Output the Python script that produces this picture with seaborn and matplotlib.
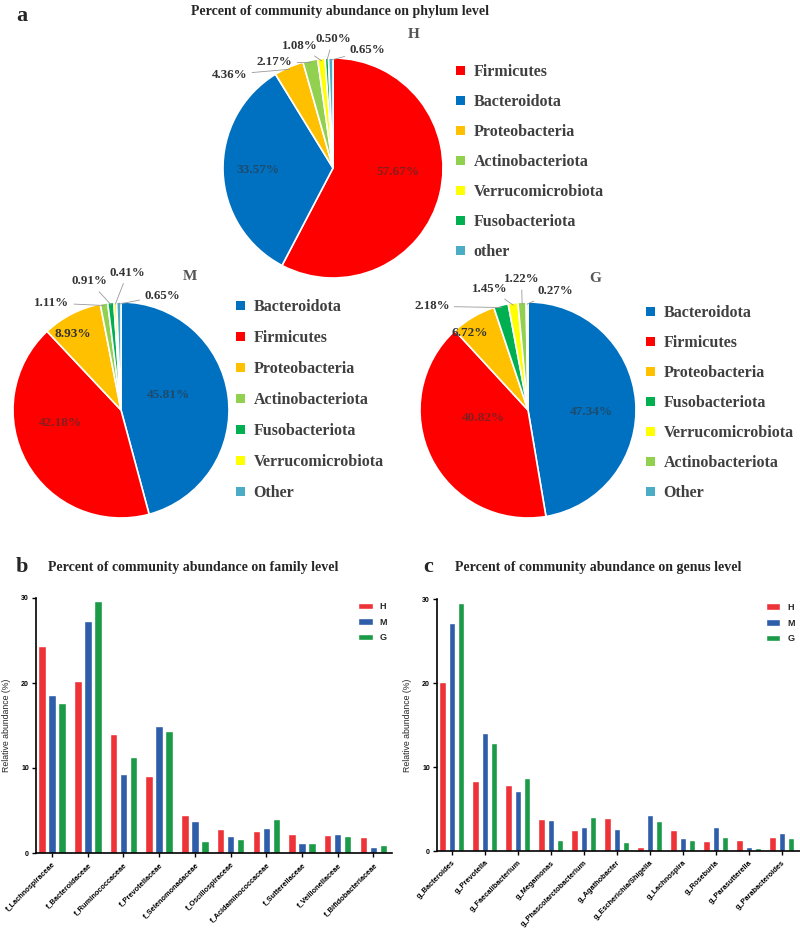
import numpy as np
import pandas as pd
import matplotlib
matplotlib.use('Agg')
import matplotlib.pyplot as plt
from matplotlib.patches import Patch
import seaborn as sns

## ============================================================= ##
## data

h_phyla = ['Firmicutes', 'Bacteroidota', 'Proteobacteria', 'Actinobacteriota',
           'Verrucomicrobiota', 'Fusobacteriota', 'other']
h_pct = [57.67, 33.57, 4.36, 2.17, 1.08, 0.50, 0.65]

m_phyla = ['Bacteroidota', 'Firmicutes', 'Proteobacteria', 'Actinobacteriota',
           'Fusobacteriota', 'Verrucomicrobiota', 'Other']
m_pct = [45.81, 42.18, 8.93, 1.11, 0.91, 0.41, 0.65]

g_phyla = ['Bacteroidota', 'Firmicutes', 'Proteobacteria', 'Fusobacteriota',
           'Verrucomicrobiota', 'Actinobacteriota', 'Other']
g_pct = [47.34, 40.82, 6.72, 2.18, 1.45, 1.22, 0.27]

groups = ['H', 'M', 'G']

family = ['f_Lachnospiraceae', 'f_Bacteroidaceae', 'f_Ruminococcaceae', 'f_Prevotellaceae',
          'f_Selenomonadaceae', 'f_Oscillospiraceae', 'f_Acidaminococcaceae',
          'f_Sutterellaceae', 'f_Veillonellaceae', 'f_Bifidobacteriaceae']
family_h = [24.3, 20.2, 14.0, 9.1, 4.47, 2.86, 2.55, 2.27, 2.08, 1.88]
family_m = [18.6, 27.25, 9.3, 15.0, 3.8, 2.04, 2.94, 1.2, 2.27, 0.7]
family_g = [17.6, 29.7, 11.25, 14.3, 1.45, 1.65, 4.04, 1.14, 2.0, 0.98]

genus = ['g_Bacteroides', 'g_Prevotella', 'g_Faecalibacterium', 'g_Megamonas',
         'g_Phascolarctobacterium', 'g_Agathobacter', 'g_Escherichia/Shigella',
         'g_Lachnospira', 'g_Roseburia', 'g_Parasutterella', 'g_Parabacteroides']
genus_h = [20.1, 8.3, 7.9, 3.8, 2.5, 3.9, 0.44, 2.5, 1.2, 1.3, 1.67]
genus_m = [27.1, 14.0, 7.2, 3.66, 2.83, 2.67, 4.26, 1.6, 2.9, 0.44, 2.2]
genus_g = [29.5, 12.9, 8.75, 1.35, 4.0, 1.1, 3.6, 1.35, 1.67, 0.4, 1.55]

## ============================================================= ##
## styles

phylum_colors = {'firmicutes': '#FF0000', 'bacteroidota': '#0070C0',
                 'proteobacteria': '#FFC000', 'actinobacteriota': '#92D050',
                 'verrucomicrobiota': '#FFFF00', 'fusobacteriota': '#00B050',
                 'other': '#4BACC6'}
bar_colors = {'H': '#EE3338', 'M': '#2E5EAA', 'G': '#1B9A47'}

SERIF = ['Liberation Serif', 'DejaVu Serif']
SANS = ['Liberation Sans', 'DejaVu Sans']

sns.set_theme(style='ticks')
plt.rcParams['font.family'] = SANS

W, H = 800, 931


def box(x0, y0, w, h):
    # pixel box (top-left origin) -> figure fraction
    return [x0 / W, 1 - (y0 + h) / H, w / W, h / H]


fig = plt.figure(figsize=(W / 100, H / 100), dpi=100)

## ============================================================= ##
## pies


def draw_pie(cx, cy, r, phyla, pct, label_pos, inner, name, name_xy, leg_xy, leg_gap):
    ax = fig.add_axes(box(cx - r, cy - r, 2 * r, 2 * r))
    cols = [phylum_colors[p.lower()] for p in phyla]
    ax.pie(pct, colors=cols, startangle=90, counterclock=False, radius=1,
           wedgeprops=dict(edgecolor='white', linewidth=1.2))
    ax.set_xlim(-1, 1)
    ax.set_ylim(-1, 1)
    ax.set_aspect('equal')
    ax.axis('off')
    cum = 0.
    for v, pos, ins in zip(pct, label_pos, inner):
        ang = np.deg2rad(360. * (cum + v / 2.) / 100.)
        cum += v
        txt = '%.2f%%' % v
        if ins == 1:
            ax.text(pos[0], pos[1], txt, ha='center', va='center', fontsize=9.5,
                    fontweight='bold', family=SERIF, color='#333333', alpha=0.6)
        elif ins == 2:
            ax.text(pos[0], pos[1], txt, ha='center', va='center', fontsize=9.5,
                    fontweight='bold', family=SERIF, color='#333333')
        else:
            ax.annotate(txt, xy=(np.sin(ang) * 0.98, np.cos(ang) * 0.98), xytext=pos,
                        ha='center', va='center', fontsize=9.3, fontweight='bold',
                        family=SERIF, color='#333333', annotation_clip=False,
                        arrowprops=dict(arrowstyle='-', color='#999999', lw=0.6,
                                        shrinkA=1, shrinkB=0))
    fig.text(name_xy[0] / W, 1 - name_xy[1] / H, name, ha='center', va='center',
             fontsize=11, fontweight='bold', family=SERIF, color='#555555')
    handles = [Patch(facecolor=c, edgecolor='none', label=p) for c, p in zip(cols, phyla)]
    fig.legend(handles=handles, loc='upper left',
               bbox_to_anchor=(leg_xy[0] / W, 1 - leg_xy[1] / H), frameon=False,
               handlelength=0.55, handleheight=0.55, handletextpad=0.55,
               labelspacing=leg_gap, borderaxespad=0, borderpad=0,
               prop=dict(family=SERIF, weight='bold', size=11.5), labelcolor='#404040')


draw_pie(333, 168, 110, h_phyla, h_pct,
         [(0.59, -0.04), (-0.68, -0.02), (-0.94, 0.85), (-0.53, 0.96),
          (-0.30, 1.11), (0.00, 1.17), (0.31, 1.07)],
         [1, 1, 0, 0, 0, 0, 0], 'H', (414, 34), (456, 64), 0.88)

draw_pie(121, 410, 108, m_phyla, m_pct,
         [(0.44, 0.14), (-0.56, -0.12), (-0.45, 0.70), (-0.64, 0.99),
          (-0.29, 1.19), (0.06, 1.27), (0.38, 1.06)],
         [1, 1, 2, 0, 0, 0, 0], 'M', (190, 277), (236, 299), 0.94)

draw_pie(528, 410, 108, g_phyla, g_pct,
         [(0.59, -0.02), (-0.41, -0.07), (-0.54, 0.71), (-0.89, 0.96),
          (-0.35, 1.12), (-0.06, 1.21), (0.25, 1.10)],
         [1, 1, 2, 0, 0, 0, 0], 'G', (595, 278), (646, 305), 0.88)

fig.text(22 / W, 1 - 16 / H, 'a', ha='center', va='center', fontsize=16,
         fontweight='bold', family=SERIF)
fig.text(340 / W, 1 - 12 / H, 'Percent of community abundance on phylum level',
         ha='center', va='center', fontsize=10, fontweight='bold', family=SERIF)

## ============================================================= ##
## bars


def draw_bars(rect, taxa, vh, vm, vg, xlim, width, gap, leg_xy):
    ax = fig.add_axes(box(*rect))
    n = len(taxa)
    df = pd.DataFrame({'taxon': taxa * 3,
                       'group': ['H'] * n + ['M'] * n + ['G'] * n,
                       'value': vh + vm + vg})
    sns.barplot(data=df, x='taxon', y='value', hue='group', hue_order=groups,
                palette=bar_colors, saturation=1, width=width, gap=gap, ax=ax,
                errorbar=None)
    ax.set_xlim(*xlim)
    ax.set_ylim(0, 30)
    ax.set_yticks([0, 10, 20, 30])
    ax.set_xlabel('')
    ax.set_ylabel('Relative abundance (%)', fontsize=6.3, labelpad=7)
    sns.despine(ax=ax)
    for s in ['left', 'bottom']:
        ax.spines[s].set_linewidth(1.2)
        ax.spines[s].set_color('black')
    ax.tick_params(axis='both', length=3, width=1.0, labelsize=5, pad=2, colors='black')
    ax.tick_params(axis='x', labelsize=5.3, pad=3)
    for lab in ax.get_yticklabels():
        lab.set_fontweight('bold')
    plt.setp(ax.get_xticklabels(), rotation=45, ha='right', rotation_mode='anchor',
             fontweight='bold')
    ax.legend(loc='upper left', bbox_to_anchor=leg_xy, frameon=False,
              handlelength=1.6, handleheight=0.7, handletextpad=0.8,
              labelspacing=0.75, borderaxespad=0, borderpad=0,
              prop=dict(family=SANS, weight='bold', size=6.5))
    return ax


axb = draw_bars((36, 598, 356, 255), family, family_h, family_m, family_g,
                (-0.45, 9.52), 0.84, 0.25, (0.905, 0.985))
axc = draw_bars((437, 599, 363, 252), genus, genus_h, genus_m, genus_g,
                (-0.45, 10.55), 0.85, 0.3, (0.905, 0.985))

fig.text(22 / W, 1 - 567 / H, 'b', ha='center', va='center', fontsize=16,
         fontweight='bold', family=SERIF)
fig.text(48 / W, 1 - 567 / H, 'Percent of community abundance on family level',
         ha='left', va='center', fontsize=10, fontweight='bold', family=SERIF)
fig.text(428 / W, 1 - 567 / H, 'c', ha='center', va='center', fontsize=16,
         fontweight='bold', family=SERIF)
fig.text(455 / W, 1 - 567 / H, 'Percent of community abundance on genus level',
         ha='left', va='center', fontsize=10, fontweight='bold', family=SERIF)

fig.savefig('out.png', dpi=100)
